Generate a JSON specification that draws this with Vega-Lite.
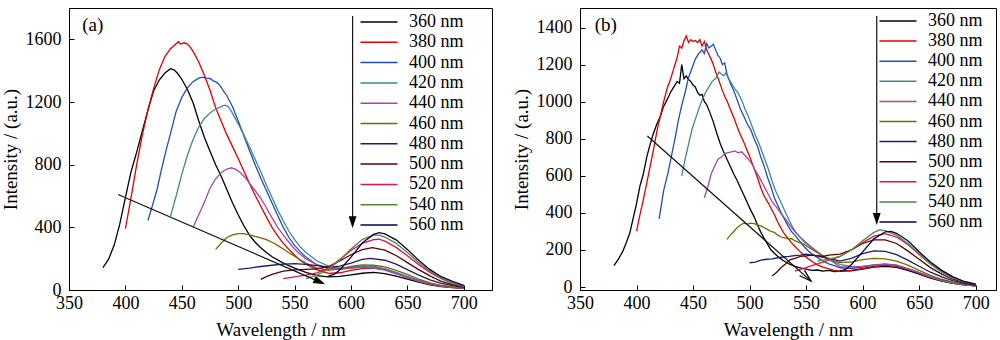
{
"$schema":"https://vega.github.io/schema/vega-lite/v6.json",
"padding":{"left":0,"top":7,"right":0,"bottom":0},
"background":"white",
"config":{
 "font":"Liberation Serif, DejaVu Serif, serif",
 "view":{"stroke":"black","strokeWidth":1},
 "axis":{"labelFont":"Liberation Serif, DejaVu Serif, serif","titleFont":"Liberation Serif, DejaVu Serif, serif","labelFontSize":18,"titleFontSize":19,"titleFontWeight":"normal","labelColor":"black","titleColor":"black","domainColor":"black","tickColor":"black","tickSize":-5,"grid":false,"labelFlush":false,"labelOverlap":false,"format":"d"},
 "axisX":{"labelPadding":9,"titlePadding":8},
 "axisY":{"labelPadding":13,"titlePadding":5},
 "legend":{"labelFont":"Liberation Serif, DejaVu Serif, serif","labelFontSize":18,"labelColor":"black"}
},
"spacing":18,
"resolve":{"legend":{"color":"independent"}},
"datasets":{
"a":[
{"s":"360 nm","x":380,"y":142},{"s":"360 nm","x":385,"y":195},{"s":"360 nm","x":390,"y":285},{"s":"360 nm","x":395,"y":420},{"s":"360 nm","x":400,"y":590},{"s":"360 nm","x":405,"y":755},{"s":"360 nm","x":410,"y":880},{"s":"360 nm","x":415,"y":1015},{"s":"360 nm","x":420,"y":1150},{"s":"360 nm","x":425,"y":1270},{"s":"360 nm","x":430,"y":1340},{"s":"360 nm","x":435,"y":1385},{"s":"360 nm","x":440,"y":1413},{"s":"360 nm","x":443,"y":1405},{"s":"360 nm","x":446,"y":1385},{"s":"360 nm","x":450,"y":1345},{"s":"360 nm","x":455,"y":1280},{"s":"360 nm","x":460,"y":1195},{"s":"360 nm","x":465,"y":1080},{"s":"360 nm","x":470,"y":975},{"s":"360 nm","x":475,"y":885},{"s":"360 nm","x":480,"y":800},{"s":"360 nm","x":485,"y":725},{"s":"360 nm","x":490,"y":640},{"s":"360 nm","x":495,"y":555},{"s":"360 nm","x":500,"y":480},{"s":"360 nm","x":505,"y":410},{"s":"360 nm","x":510,"y":350},{"s":"360 nm","x":515,"y":305},{"s":"360 nm","x":520,"y":270},{"s":"360 nm","x":525,"y":240},{"s":"360 nm","x":530,"y":212},{"s":"360 nm","x":540,"y":172},{"s":"360 nm","x":550,"y":140},{"s":"360 nm","x":560,"y":112},{"s":"360 nm","x":570,"y":92},{"s":"360 nm","x":580,"y":84},{"s":"360 nm","x":590,"y":87},{"s":"360 nm","x":600,"y":97},{"s":"360 nm","x":610,"y":107},{"s":"360 nm","x":620,"y":112},{"s":"360 nm","x":630,"y":105},{"s":"360 nm","x":640,"y":88},{"s":"360 nm","x":650,"y":70},{"s":"360 nm","x":660,"y":50},{"s":"360 nm","x":670,"y":33},{"s":"360 nm","x":680,"y":22},{"s":"360 nm","x":690,"y":15},{"s":"360 nm","x":700,"y":10},
{"s":"380 nm","x":400,"y":391},{"s":"380 nm","x":405,"y":590},{"s":"380 nm","x":410,"y":800},{"s":"380 nm","x":415,"y":990},{"s":"380 nm","x":420,"y":1150},{"s":"380 nm","x":425,"y":1285},{"s":"380 nm","x":430,"y":1405},{"s":"380 nm","x":435,"y":1490},{"s":"380 nm","x":440,"y":1540},{"s":"380 nm","x":445,"y":1572},{"s":"380 nm","x":447,"y":1585},{"s":"380 nm","x":449,"y":1570},{"s":"380 nm","x":452,"y":1578},{"s":"380 nm","x":455,"y":1570},{"s":"380 nm","x":458,"y":1545},{"s":"380 nm","x":461,"y":1510},{"s":"380 nm","x":465,"y":1455},{"s":"380 nm","x":470,"y":1370},{"s":"380 nm","x":475,"y":1275},{"s":"380 nm","x":480,"y":1165},{"s":"380 nm","x":485,"y":1075},{"s":"380 nm","x":490,"y":990},{"s":"380 nm","x":495,"y":915},{"s":"380 nm","x":500,"y":840},{"s":"380 nm","x":505,"y":760},{"s":"380 nm","x":510,"y":680},{"s":"380 nm","x":515,"y":605},{"s":"380 nm","x":520,"y":535},{"s":"380 nm","x":525,"y":465},{"s":"380 nm","x":530,"y":400},{"s":"380 nm","x":535,"y":345},{"s":"380 nm","x":540,"y":298},{"s":"380 nm","x":545,"y":258},{"s":"380 nm","x":550,"y":222},{"s":"380 nm","x":555,"y":190},{"s":"380 nm","x":560,"y":165},{"s":"380 nm","x":570,"y":128},{"s":"380 nm","x":580,"y":106},{"s":"380 nm","x":590,"y":110},{"s":"380 nm","x":600,"y":125},{"s":"380 nm","x":610,"y":137},{"s":"380 nm","x":620,"y":140},{"s":"380 nm","x":630,"y":128},{"s":"380 nm","x":640,"y":105},{"s":"380 nm","x":650,"y":80},{"s":"380 nm","x":660,"y":57},{"s":"380 nm","x":670,"y":38},{"s":"380 nm","x":680,"y":25},{"s":"380 nm","x":690,"y":17},{"s":"380 nm","x":700,"y":12},
{"s":"400 nm","x":420,"y":444},{"s":"400 nm","x":424,"y":540},{"s":"400 nm","x":428,"y":640},{"s":"400 nm","x":432,"y":770},{"s":"400 nm","x":436,"y":890},{"s":"400 nm","x":440,"y":1000},{"s":"400 nm","x":445,"y":1140},{"s":"400 nm","x":450,"y":1230},{"s":"400 nm","x":455,"y":1290},{"s":"400 nm","x":460,"y":1330},{"s":"400 nm","x":465,"y":1352},{"s":"400 nm","x":468,"y":1358},{"s":"400 nm","x":472,"y":1352},{"s":"400 nm","x":475,"y":1350},{"s":"400 nm","x":478,"y":1335},{"s":"400 nm","x":481,"y":1325},{"s":"400 nm","x":484,"y":1305},{"s":"400 nm","x":487,"y":1270},{"s":"400 nm","x":490,"y":1240},{"s":"400 nm","x":495,"y":1170},{"s":"400 nm","x":500,"y":1080},{"s":"400 nm","x":505,"y":985},{"s":"400 nm","x":510,"y":890},{"s":"400 nm","x":515,"y":800},{"s":"400 nm","x":520,"y":715},{"s":"400 nm","x":525,"y":635},{"s":"400 nm","x":530,"y":555},{"s":"400 nm","x":535,"y":475},{"s":"400 nm","x":540,"y":400},{"s":"400 nm","x":545,"y":335},{"s":"400 nm","x":550,"y":285},{"s":"400 nm","x":555,"y":245},{"s":"400 nm","x":560,"y":210},{"s":"400 nm","x":570,"y":160},{"s":"400 nm","x":580,"y":138},{"s":"400 nm","x":590,"y":132},{"s":"400 nm","x":600,"y":140},{"s":"400 nm","x":610,"y":150},{"s":"400 nm","x":620,"y":148},{"s":"400 nm","x":630,"y":135},{"s":"400 nm","x":640,"y":110},{"s":"400 nm","x":650,"y":85},{"s":"400 nm","x":660,"y":60},{"s":"400 nm","x":670,"y":40},{"s":"400 nm","x":680,"y":27},{"s":"400 nm","x":690,"y":18},{"s":"400 nm","x":700,"y":13},
{"s":"420 nm","x":440,"y":472},{"s":"420 nm","x":445,"y":600},{"s":"420 nm","x":450,"y":740},{"s":"420 nm","x":455,"y":860},{"s":"420 nm","x":460,"y":960},{"s":"420 nm","x":465,"y":1040},{"s":"420 nm","x":470,"y":1095},{"s":"420 nm","x":475,"y":1130},{"s":"420 nm","x":480,"y":1155},{"s":"420 nm","x":485,"y":1170},{"s":"420 nm","x":488,"y":1180},{"s":"420 nm","x":491,"y":1172},{"s":"420 nm","x":494,"y":1140},{"s":"420 nm","x":497,"y":1100},{"s":"420 nm","x":500,"y":1060},{"s":"420 nm","x":505,"y":990},{"s":"420 nm","x":510,"y":915},{"s":"420 nm","x":515,"y":835},{"s":"420 nm","x":520,"y":755},{"s":"420 nm","x":525,"y":670},{"s":"420 nm","x":530,"y":590},{"s":"420 nm","x":535,"y":510},{"s":"420 nm","x":540,"y":440},{"s":"420 nm","x":545,"y":375},{"s":"420 nm","x":550,"y":322},{"s":"420 nm","x":555,"y":275},{"s":"420 nm","x":560,"y":240},{"s":"420 nm","x":570,"y":185},{"s":"420 nm","x":580,"y":152},{"s":"420 nm","x":590,"y":140},{"s":"420 nm","x":600,"y":145},{"s":"420 nm","x":610,"y":152},{"s":"420 nm","x":620,"y":150},{"s":"420 nm","x":630,"y":135},{"s":"420 nm","x":640,"y":112},{"s":"420 nm","x":650,"y":85},{"s":"420 nm","x":660,"y":60},{"s":"420 nm","x":670,"y":40},{"s":"420 nm","x":680,"y":27},{"s":"420 nm","x":690,"y":18},{"s":"420 nm","x":700,"y":13},
{"s":"440 nm","x":460,"y":400},{"s":"440 nm","x":465,"y":480},{"s":"440 nm","x":470,"y":560},{"s":"440 nm","x":475,"y":650},{"s":"440 nm","x":480,"y":710},{"s":"440 nm","x":485,"y":750},{"s":"440 nm","x":490,"y":772},{"s":"440 nm","x":494,"y":780},{"s":"440 nm","x":498,"y":770},{"s":"440 nm","x":502,"y":748},{"s":"440 nm","x":506,"y":720},{"s":"440 nm","x":510,"y":680},{"s":"440 nm","x":515,"y":635},{"s":"440 nm","x":520,"y":585},{"s":"440 nm","x":525,"y":525},{"s":"440 nm","x":530,"y":460},{"s":"440 nm","x":535,"y":400},{"s":"440 nm","x":540,"y":350},{"s":"440 nm","x":545,"y":305},{"s":"440 nm","x":550,"y":262},{"s":"440 nm","x":555,"y":228},{"s":"440 nm","x":560,"y":198},{"s":"440 nm","x":570,"y":160},{"s":"440 nm","x":580,"y":142},{"s":"440 nm","x":590,"y":138},{"s":"440 nm","x":600,"y":140},{"s":"440 nm","x":610,"y":145},{"s":"440 nm","x":620,"y":140},{"s":"440 nm","x":630,"y":128},{"s":"440 nm","x":640,"y":105},{"s":"440 nm","x":650,"y":80},{"s":"440 nm","x":660,"y":55},{"s":"440 nm","x":670,"y":38},{"s":"440 nm","x":680,"y":25},{"s":"440 nm","x":690,"y":17},{"s":"440 nm","x":700,"y":12},
{"s":"460 nm","x":480,"y":259},{"s":"460 nm","x":485,"y":300},{"s":"460 nm","x":490,"y":335},{"s":"460 nm","x":495,"y":352},{"s":"460 nm","x":500,"y":360},{"s":"460 nm","x":505,"y":360},{"s":"460 nm","x":510,"y":352},{"s":"460 nm","x":515,"y":342},{"s":"460 nm","x":520,"y":333},{"s":"460 nm","x":525,"y":322},{"s":"460 nm","x":530,"y":305},{"s":"460 nm","x":535,"y":285},{"s":"460 nm","x":540,"y":262},{"s":"460 nm","x":545,"y":238},{"s":"460 nm","x":550,"y":215},{"s":"460 nm","x":555,"y":192},{"s":"460 nm","x":560,"y":172},{"s":"460 nm","x":570,"y":140},{"s":"460 nm","x":580,"y":126},{"s":"460 nm","x":590,"y":135},{"s":"460 nm","x":600,"y":150},{"s":"460 nm","x":610,"y":160},{"s":"460 nm","x":620,"y":158},{"s":"460 nm","x":630,"y":148},{"s":"460 nm","x":640,"y":125},{"s":"460 nm","x":650,"y":100},{"s":"460 nm","x":660,"y":70},{"s":"460 nm","x":670,"y":45},{"s":"460 nm","x":680,"y":30},{"s":"460 nm","x":690,"y":20},{"s":"460 nm","x":700,"y":14},
{"s":"480 nm","x":500,"y":132},{"s":"480 nm","x":510,"y":140},{"s":"480 nm","x":520,"y":150},{"s":"480 nm","x":530,"y":158},{"s":"480 nm","x":540,"y":165},{"s":"480 nm","x":550,"y":168},{"s":"480 nm","x":560,"y":164},{"s":"480 nm","x":570,"y":155},{"s":"480 nm","x":580,"y":145},{"s":"480 nm","x":590,"y":152},{"s":"480 nm","x":600,"y":172},{"s":"480 nm","x":610,"y":195},{"s":"480 nm","x":617,"y":202},{"s":"480 nm","x":630,"y":190},{"s":"480 nm","x":640,"y":165},{"s":"480 nm","x":650,"y":130},{"s":"480 nm","x":660,"y":95},{"s":"480 nm","x":670,"y":65},{"s":"480 nm","x":680,"y":42},{"s":"480 nm","x":690,"y":28},{"s":"480 nm","x":700,"y":18},
{"s":"500 nm","x":520,"y":68},{"s":"500 nm","x":525,"y":85},{"s":"500 nm","x":530,"y":100},{"s":"500 nm","x":540,"y":120},{"s":"500 nm","x":550,"y":128},{"s":"500 nm","x":560,"y":132},{"s":"500 nm","x":570,"y":135},{"s":"500 nm","x":580,"y":150},{"s":"500 nm","x":590,"y":185},{"s":"500 nm","x":600,"y":225},{"s":"500 nm","x":610,"y":258},{"s":"500 nm","x":619,"y":270},{"s":"500 nm","x":630,"y":255},{"s":"500 nm","x":640,"y":220},{"s":"500 nm","x":650,"y":175},{"s":"500 nm","x":660,"y":130},{"s":"500 nm","x":670,"y":90},{"s":"500 nm","x":680,"y":55},{"s":"500 nm","x":690,"y":35},{"s":"500 nm","x":700,"y":20},
{"s":"520 nm","x":540,"y":72},{"s":"520 nm","x":550,"y":84},{"s":"520 nm","x":560,"y":95},{"s":"520 nm","x":570,"y":110},{"s":"520 nm","x":580,"y":140},{"s":"520 nm","x":590,"y":195},{"s":"520 nm","x":600,"y":252},{"s":"520 nm","x":610,"y":298},{"s":"520 nm","x":620,"y":322},{"s":"520 nm","x":625,"y":324},{"s":"520 nm","x":630,"y":312},{"s":"520 nm","x":640,"y":272},{"s":"520 nm","x":650,"y":218},{"s":"520 nm","x":660,"y":162},{"s":"520 nm","x":670,"y":112},{"s":"520 nm","x":680,"y":72},{"s":"520 nm","x":690,"y":42},{"s":"520 nm","x":700,"y":22},
{"s":"540 nm","x":560,"y":72},{"s":"540 nm","x":570,"y":95},{"s":"540 nm","x":580,"y":132},{"s":"540 nm","x":590,"y":190},{"s":"540 nm","x":600,"y":262},{"s":"540 nm","x":610,"y":322},{"s":"540 nm","x":620,"y":352},{"s":"540 nm","x":625,"y":350},{"s":"540 nm","x":630,"y":338},{"s":"540 nm","x":640,"y":298},{"s":"540 nm","x":650,"y":240},{"s":"540 nm","x":660,"y":176},{"s":"540 nm","x":670,"y":120},{"s":"540 nm","x":680,"y":76},{"s":"540 nm","x":690,"y":46},{"s":"540 nm","x":700,"y":25},
{"s":"560 nm","x":580,"y":90},{"s":"560 nm","x":585,"y":100},{"s":"560 nm","x":590,"y":128},{"s":"560 nm","x":600,"y":210},{"s":"560 nm","x":610,"y":300},{"s":"560 nm","x":620,"y":355},{"s":"560 nm","x":625,"y":366},{"s":"560 nm","x":630,"y":358},{"s":"560 nm","x":640,"y":320},{"s":"560 nm","x":650,"y":258},{"s":"560 nm","x":660,"y":190},{"s":"560 nm","x":670,"y":130},{"s":"560 nm","x":680,"y":85},{"s":"560 nm","x":690,"y":55},{"s":"560 nm","x":700,"y":30}
],
"b":[
{"s":"360 nm","x":380,"y":115},{"s":"360 nm","x":384,"y":150},{"s":"360 nm","x":388,"y":195},{"s":"360 nm","x":391,"y":240},{"s":"360 nm","x":394,"y":290},{"s":"360 nm","x":397,"y":370},{"s":"360 nm","x":400,"y":450},{"s":"360 nm","x":403,"y":545},{"s":"360 nm","x":406,"y":610},{"s":"360 nm","x":409,"y":700},{"s":"360 nm","x":412,"y":770},{"s":"360 nm","x":415,"y":830},{"s":"360 nm","x":418,"y":880},{"s":"360 nm","x":421,"y":920},{"s":"360 nm","x":424,"y":975},{"s":"360 nm","x":427,"y":1010},{"s":"360 nm","x":430,"y":1050},{"s":"360 nm","x":433,"y":1080},{"s":"360 nm","x":436,"y":1110},{"s":"360 nm","x":438,"y":1100},{"s":"360 nm","x":440,"y":1200},{"s":"360 nm","x":442,"y":1125},{"s":"360 nm","x":444,"y":1140},{"s":"360 nm","x":446,"y":1120},{"s":"360 nm","x":448,"y":1110},{"s":"360 nm","x":450,"y":1090},{"s":"360 nm","x":452,"y":1080},{"s":"360 nm","x":454,"y":1050},{"s":"360 nm","x":456,"y":1035},{"s":"360 nm","x":458,"y":1040},{"s":"360 nm","x":460,"y":1000},{"s":"360 nm","x":462,"y":985},{"s":"360 nm","x":465,"y":940},{"s":"360 nm","x":468,"y":890},{"s":"360 nm","x":471,"y":830},{"s":"360 nm","x":474,"y":775},{"s":"360 nm","x":477,"y":730},{"s":"360 nm","x":480,"y":690},{"s":"360 nm","x":483,"y":650},{"s":"360 nm","x":486,"y":610},{"s":"360 nm","x":489,"y":575},{"s":"360 nm","x":492,"y":535},{"s":"360 nm","x":495,"y":495},{"s":"360 nm","x":498,"y":455},{"s":"360 nm","x":501,"y":415},{"s":"360 nm","x":504,"y":380},{"s":"360 nm","x":507,"y":335},{"s":"360 nm","x":510,"y":295},{"s":"360 nm","x":513,"y":262},{"s":"360 nm","x":516,"y":230},{"s":"360 nm","x":519,"y":200},{"s":"360 nm","x":522,"y":182},{"s":"360 nm","x":526,"y":160},{"s":"360 nm","x":530,"y":142},{"s":"360 nm","x":535,"y":125},{"s":"360 nm","x":540,"y":112},{"s":"360 nm","x":545,"y":104},{"s":"360 nm","x":550,"y":97},{"s":"360 nm","x":555,"y":90},{"s":"360 nm","x":560,"y":92},{"s":"360 nm","x":565,"y":86},{"s":"360 nm","x":570,"y":90},{"s":"360 nm","x":575,"y":84},{"s":"360 nm","x":580,"y":86},{"s":"360 nm","x":590,"y":88},{"s":"360 nm","x":600,"y":97},{"s":"360 nm","x":610,"y":108},{"s":"360 nm","x":620,"y":112},{"s":"360 nm","x":630,"y":106},{"s":"360 nm","x":640,"y":90},{"s":"360 nm","x":650,"y":70},{"s":"360 nm","x":660,"y":48},{"s":"360 nm","x":670,"y":32},{"s":"360 nm","x":680,"y":20},{"s":"360 nm","x":690,"y":12},{"s":"360 nm","x":700,"y":6},
{"s":"380 nm","x":400,"y":300},{"s":"380 nm","x":403,"y":390},{"s":"380 nm","x":406,"y":470},{"s":"380 nm","x":409,"y":560},{"s":"380 nm","x":412,"y":650},{"s":"380 nm","x":415,"y":740},{"s":"380 nm","x":418,"y":840},{"s":"380 nm","x":421,"y":920},{"s":"380 nm","x":424,"y":1000},{"s":"380 nm","x":427,"y":1070},{"s":"380 nm","x":430,"y":1120},{"s":"380 nm","x":433,"y":1180},{"s":"380 nm","x":436,"y":1240},{"s":"380 nm","x":438,"y":1300},{"s":"380 nm","x":440,"y":1290},{"s":"380 nm","x":442,"y":1330},{"s":"380 nm","x":444,"y":1355},{"s":"380 nm","x":446,"y":1320},{"s":"380 nm","x":448,"y":1335},{"s":"380 nm","x":450,"y":1325},{"s":"380 nm","x":452,"y":1330},{"s":"380 nm","x":454,"y":1320},{"s":"380 nm","x":456,"y":1335},{"s":"380 nm","x":458,"y":1300},{"s":"380 nm","x":460,"y":1325},{"s":"380 nm","x":462,"y":1280},{"s":"380 nm","x":464,"y":1255},{"s":"380 nm","x":466,"y":1230},{"s":"380 nm","x":468,"y":1200},{"s":"380 nm","x":470,"y":1160},{"s":"380 nm","x":472,"y":1130},{"s":"380 nm","x":474,"y":1095},{"s":"380 nm","x":476,"y":1060},{"s":"380 nm","x":478,"y":1030},{"s":"380 nm","x":480,"y":1005},{"s":"380 nm","x":483,"y":960},{"s":"380 nm","x":486,"y":915},{"s":"380 nm","x":489,"y":865},{"s":"380 nm","x":492,"y":820},{"s":"380 nm","x":495,"y":780},{"s":"380 nm","x":498,"y":735},{"s":"380 nm","x":501,"y":690},{"s":"380 nm","x":504,"y":640},{"s":"380 nm","x":507,"y":590},{"s":"380 nm","x":510,"y":535},{"s":"380 nm","x":513,"y":490},{"s":"380 nm","x":516,"y":460},{"s":"380 nm","x":519,"y":425},{"s":"380 nm","x":522,"y":390},{"s":"380 nm","x":525,"y":350},{"s":"380 nm","x":528,"y":315},{"s":"380 nm","x":531,"y":285},{"s":"380 nm","x":534,"y":262},{"s":"380 nm","x":537,"y":240},{"s":"380 nm","x":540,"y":220},{"s":"380 nm","x":544,"y":195},{"s":"380 nm","x":548,"y":172},{"s":"380 nm","x":552,"y":152},{"s":"380 nm","x":556,"y":135},{"s":"380 nm","x":560,"y":120},{"s":"380 nm","x":565,"y":108},{"s":"380 nm","x":570,"y":98},{"s":"380 nm","x":575,"y":90},{"s":"380 nm","x":580,"y":86},{"s":"380 nm","x":590,"y":90},{"s":"380 nm","x":600,"y":100},{"s":"380 nm","x":610,"y":112},{"s":"380 nm","x":620,"y":118},{"s":"380 nm","x":630,"y":112},{"s":"380 nm","x":640,"y":95},{"s":"380 nm","x":650,"y":74},{"s":"380 nm","x":660,"y":52},{"s":"380 nm","x":670,"y":34},{"s":"380 nm","x":680,"y":21},{"s":"380 nm","x":690,"y":12},{"s":"380 nm","x":700,"y":6},
{"s":"400 nm","x":420,"y":368},{"s":"400 nm","x":424,"y":520},{"s":"400 nm","x":428,"y":620},{"s":"400 nm","x":431,"y":710},{"s":"400 nm","x":434,"y":800},{"s":"400 nm","x":437,"y":900},{"s":"400 nm","x":440,"y":980},{"s":"400 nm","x":443,"y":1050},{"s":"400 nm","x":446,"y":1130},{"s":"400 nm","x":449,"y":1180},{"s":"400 nm","x":452,"y":1230},{"s":"400 nm","x":455,"y":1260},{"s":"400 nm","x":458,"y":1280},{"s":"400 nm","x":460,"y":1260},{"s":"400 nm","x":462,"y":1315},{"s":"400 nm","x":464,"y":1290},{"s":"400 nm","x":466,"y":1300},{"s":"400 nm","x":468,"y":1310},{"s":"400 nm","x":470,"y":1280},{"s":"400 nm","x":472,"y":1250},{"s":"400 nm","x":474,"y":1235},{"s":"400 nm","x":476,"y":1200},{"s":"400 nm","x":478,"y":1210},{"s":"400 nm","x":480,"y":1150},{"s":"400 nm","x":483,"y":1100},{"s":"400 nm","x":486,"y":1060},{"s":"400 nm","x":489,"y":1010},{"s":"400 nm","x":492,"y":960},{"s":"400 nm","x":495,"y":920},{"s":"400 nm","x":498,"y":880},{"s":"400 nm","x":501,"y":850},{"s":"400 nm","x":504,"y":800},{"s":"400 nm","x":507,"y":760},{"s":"400 nm","x":510,"y":700},{"s":"400 nm","x":513,"y":650},{"s":"400 nm","x":516,"y":590},{"s":"400 nm","x":519,"y":540},{"s":"400 nm","x":522,"y":480},{"s":"400 nm","x":525,"y":440},{"s":"400 nm","x":528,"y":400},{"s":"400 nm","x":531,"y":365},{"s":"400 nm","x":534,"y":330},{"s":"400 nm","x":537,"y":300},{"s":"400 nm","x":540,"y":280},{"s":"400 nm","x":544,"y":250},{"s":"400 nm","x":548,"y":220},{"s":"400 nm","x":552,"y":195},{"s":"400 nm","x":556,"y":175},{"s":"400 nm","x":560,"y":160},{"s":"400 nm","x":565,"y":140},{"s":"400 nm","x":570,"y":125},{"s":"400 nm","x":575,"y":115},{"s":"400 nm","x":580,"y":104},{"s":"400 nm","x":590,"y":100},{"s":"400 nm","x":600,"y":108},{"s":"400 nm","x":610,"y":118},{"s":"400 nm","x":620,"y":122},{"s":"400 nm","x":630,"y":115},{"s":"400 nm","x":640,"y":98},{"s":"400 nm","x":650,"y":76},{"s":"400 nm","x":660,"y":53},{"s":"400 nm","x":670,"y":35},{"s":"400 nm","x":680,"y":22},{"s":"400 nm","x":690,"y":13},{"s":"400 nm","x":700,"y":7},
{"s":"420 nm","x":440,"y":600},{"s":"420 nm","x":443,"y":690},{"s":"420 nm","x":446,"y":770},{"s":"420 nm","x":449,"y":850},{"s":"420 nm","x":452,"y":905},{"s":"420 nm","x":455,"y":960},{"s":"420 nm","x":458,"y":1010},{"s":"420 nm","x":461,"y":1050},{"s":"420 nm","x":464,"y":1080},{"s":"420 nm","x":467,"y":1110},{"s":"420 nm","x":470,"y":1125},{"s":"420 nm","x":473,"y":1160},{"s":"420 nm","x":475,"y":1150},{"s":"420 nm","x":477,"y":1140},{"s":"420 nm","x":479,"y":1155},{"s":"420 nm","x":481,"y":1130},{"s":"420 nm","x":484,"y":1100},{"s":"420 nm","x":487,"y":1070},{"s":"420 nm","x":490,"y":1045},{"s":"420 nm","x":493,"y":1010},{"s":"420 nm","x":496,"y":960},{"s":"420 nm","x":499,"y":920},{"s":"420 nm","x":502,"y":870},{"s":"420 nm","x":505,"y":820},{"s":"420 nm","x":508,"y":780},{"s":"420 nm","x":511,"y":730},{"s":"420 nm","x":514,"y":680},{"s":"420 nm","x":517,"y":630},{"s":"420 nm","x":520,"y":570},{"s":"420 nm","x":523,"y":520},{"s":"420 nm","x":526,"y":480},{"s":"420 nm","x":529,"y":440},{"s":"420 nm","x":532,"y":400},{"s":"420 nm","x":535,"y":360},{"s":"420 nm","x":538,"y":325},{"s":"420 nm","x":541,"y":295},{"s":"420 nm","x":545,"y":265},{"s":"420 nm","x":549,"y":240},{"s":"420 nm","x":553,"y":220},{"s":"420 nm","x":557,"y":200},{"s":"420 nm","x":561,"y":182},{"s":"420 nm","x":565,"y":165},{"s":"420 nm","x":570,"y":150},{"s":"420 nm","x":575,"y":135},{"s":"420 nm","x":580,"y":122},{"s":"420 nm","x":590,"y":110},{"s":"420 nm","x":600,"y":112},{"s":"420 nm","x":610,"y":120},{"s":"420 nm","x":620,"y":125},{"s":"420 nm","x":630,"y":118},{"s":"420 nm","x":640,"y":100},{"s":"420 nm","x":650,"y":78},{"s":"420 nm","x":660,"y":55},{"s":"420 nm","x":670,"y":36},{"s":"420 nm","x":680,"y":22},{"s":"420 nm","x":690,"y":13},{"s":"420 nm","x":700,"y":7},
{"s":"440 nm","x":460,"y":482},{"s":"440 nm","x":463,"y":540},{"s":"440 nm","x":466,"y":610},{"s":"440 nm","x":469,"y":650},{"s":"440 nm","x":472,"y":690},{"s":"440 nm","x":475,"y":700},{"s":"440 nm","x":478,"y":720},{"s":"440 nm","x":481,"y":725},{"s":"440 nm","x":484,"y":730},{"s":"440 nm","x":487,"y":735},{"s":"440 nm","x":490,"y":725},{"s":"440 nm","x":493,"y":730},{"s":"440 nm","x":496,"y":710},{"s":"440 nm","x":499,"y":690},{"s":"440 nm","x":502,"y":665},{"s":"440 nm","x":505,"y":630},{"s":"440 nm","x":508,"y":600},{"s":"440 nm","x":511,"y":565},{"s":"440 nm","x":514,"y":530},{"s":"440 nm","x":517,"y":495},{"s":"440 nm","x":520,"y":460},{"s":"440 nm","x":524,"y":430},{"s":"440 nm","x":528,"y":395},{"s":"440 nm","x":532,"y":365},{"s":"440 nm","x":536,"y":330},{"s":"440 nm","x":540,"y":300},{"s":"440 nm","x":545,"y":268},{"s":"440 nm","x":550,"y":240},{"s":"440 nm","x":555,"y":215},{"s":"440 nm","x":560,"y":190},{"s":"440 nm","x":565,"y":168},{"s":"440 nm","x":570,"y":150},{"s":"440 nm","x":575,"y":130},{"s":"440 nm","x":580,"y":110},{"s":"440 nm","x":590,"y":108},{"s":"440 nm","x":600,"y":112},{"s":"440 nm","x":610,"y":118},{"s":"440 nm","x":620,"y":122},{"s":"440 nm","x":630,"y":118},{"s":"440 nm","x":640,"y":100},{"s":"440 nm","x":650,"y":78},{"s":"440 nm","x":660,"y":55},{"s":"440 nm","x":670,"y":37},{"s":"440 nm","x":680,"y":23},{"s":"440 nm","x":690,"y":14},{"s":"440 nm","x":700,"y":7},
{"s":"460 nm","x":480,"y":257},{"s":"460 nm","x":483,"y":280},{"s":"460 nm","x":486,"y":300},{"s":"460 nm","x":489,"y":320},{"s":"460 nm","x":492,"y":335},{"s":"460 nm","x":495,"y":345},{"s":"460 nm","x":498,"y":340},{"s":"460 nm","x":501,"y":345},{"s":"460 nm","x":504,"y":342},{"s":"460 nm","x":507,"y":335},{"s":"460 nm","x":510,"y":330},{"s":"460 nm","x":513,"y":320},{"s":"460 nm","x":516,"y":310},{"s":"460 nm","x":519,"y":300},{"s":"460 nm","x":522,"y":295},{"s":"460 nm","x":525,"y":280},{"s":"460 nm","x":528,"y":270},{"s":"460 nm","x":531,"y":265},{"s":"460 nm","x":534,"y":260},{"s":"460 nm","x":537,"y":262},{"s":"460 nm","x":540,"y":250},{"s":"460 nm","x":544,"y":240},{"s":"460 nm","x":548,"y":232},{"s":"460 nm","x":552,"y":215},{"s":"460 nm","x":556,"y":200},{"s":"460 nm","x":560,"y":185},{"s":"460 nm","x":565,"y":168},{"s":"460 nm","x":570,"y":150},{"s":"460 nm","x":575,"y":140},{"s":"460 nm","x":580,"y":132},{"s":"460 nm","x":590,"y":135},{"s":"460 nm","x":600,"y":148},{"s":"460 nm","x":610,"y":155},{"s":"460 nm","x":620,"y":152},{"s":"460 nm","x":630,"y":140},{"s":"460 nm","x":640,"y":118},{"s":"460 nm","x":650,"y":90},{"s":"460 nm","x":660,"y":63},{"s":"460 nm","x":670,"y":42},{"s":"460 nm","x":680,"y":27},{"s":"460 nm","x":690,"y":16},{"s":"460 nm","x":700,"y":8},
{"s":"480 nm","x":500,"y":131},{"s":"480 nm","x":505,"y":135},{"s":"480 nm","x":510,"y":145},{"s":"480 nm","x":515,"y":150},{"s":"480 nm","x":520,"y":152},{"s":"480 nm","x":525,"y":158},{"s":"480 nm","x":530,"y":162},{"s":"480 nm","x":535,"y":165},{"s":"480 nm","x":540,"y":170},{"s":"480 nm","x":545,"y":172},{"s":"480 nm","x":550,"y":178},{"s":"480 nm","x":555,"y":172},{"s":"480 nm","x":560,"y":168},{"s":"480 nm","x":565,"y":160},{"s":"480 nm","x":570,"y":155},{"s":"480 nm","x":575,"y":148},{"s":"480 nm","x":580,"y":140},{"s":"480 nm","x":590,"y":155},{"s":"480 nm","x":600,"y":180},{"s":"480 nm","x":610,"y":195},{"s":"480 nm","x":620,"y":192},{"s":"480 nm","x":630,"y":175},{"s":"480 nm","x":640,"y":145},{"s":"480 nm","x":650,"y":112},{"s":"480 nm","x":660,"y":80},{"s":"480 nm","x":670,"y":55},{"s":"480 nm","x":680,"y":35},{"s":"480 nm","x":690,"y":20},{"s":"480 nm","x":700,"y":10},
{"s":"500 nm","x":520,"y":59},{"s":"500 nm","x":524,"y":80},{"s":"500 nm","x":528,"y":105},{"s":"500 nm","x":532,"y":125},{"s":"500 nm","x":536,"y":148},{"s":"500 nm","x":540,"y":155},{"s":"500 nm","x":545,"y":165},{"s":"500 nm","x":550,"y":168},{"s":"500 nm","x":555,"y":172},{"s":"500 nm","x":560,"y":170},{"s":"500 nm","x":565,"y":165},{"s":"500 nm","x":570,"y":172},{"s":"500 nm","x":575,"y":175},{"s":"500 nm","x":580,"y":178},{"s":"500 nm","x":590,"y":200},{"s":"500 nm","x":600,"y":235},{"s":"500 nm","x":610,"y":255},{"s":"500 nm","x":620,"y":255},{"s":"500 nm","x":630,"y":235},{"s":"500 nm","x":640,"y":195},{"s":"500 nm","x":650,"y":150},{"s":"500 nm","x":660,"y":105},{"s":"500 nm","x":670,"y":70},{"s":"500 nm","x":680,"y":42},{"s":"500 nm","x":690,"y":25},{"s":"500 nm","x":700,"y":12},
{"s":"520 nm","x":540,"y":86},{"s":"520 nm","x":545,"y":95},{"s":"520 nm","x":550,"y":105},{"s":"520 nm","x":555,"y":115},{"s":"520 nm","x":560,"y":125},{"s":"520 nm","x":565,"y":135},{"s":"520 nm","x":570,"y":145},{"s":"520 nm","x":575,"y":155},{"s":"520 nm","x":580,"y":165},{"s":"520 nm","x":590,"y":200},{"s":"520 nm","x":600,"y":240},{"s":"520 nm","x":610,"y":275},{"s":"520 nm","x":620,"y":288},{"s":"520 nm","x":630,"y":270},{"s":"520 nm","x":640,"y":230},{"s":"520 nm","x":650,"y":175},{"s":"520 nm","x":660,"y":125},{"s":"520 nm","x":670,"y":82},{"s":"520 nm","x":680,"y":50},{"s":"520 nm","x":690,"y":28},{"s":"520 nm","x":700,"y":14},
{"s":"540 nm","x":560,"y":140},{"s":"540 nm","x":565,"y":145},{"s":"540 nm","x":570,"y":150},{"s":"540 nm","x":575,"y":158},{"s":"540 nm","x":580,"y":165},{"s":"540 nm","x":590,"y":200},{"s":"540 nm","x":600,"y":250},{"s":"540 nm","x":610,"y":295},{"s":"540 nm","x":615,"y":308},{"s":"540 nm","x":620,"y":305},{"s":"540 nm","x":630,"y":280},{"s":"540 nm","x":640,"y":235},{"s":"540 nm","x":650,"y":180},{"s":"540 nm","x":660,"y":125},{"s":"540 nm","x":670,"y":82},{"s":"540 nm","x":680,"y":50},{"s":"540 nm","x":690,"y":28},{"s":"540 nm","x":700,"y":14},
{"s":"560 nm","x":580,"y":86},{"s":"560 nm","x":585,"y":95},{"s":"560 nm","x":590,"y":120},{"s":"560 nm","x":600,"y":190},{"s":"560 nm","x":610,"y":260},{"s":"560 nm","x":620,"y":298},{"s":"560 nm","x":625,"y":300},{"s":"560 nm","x":630,"y":290},{"s":"560 nm","x":640,"y":250},{"s":"560 nm","x":650,"y":190},{"s":"560 nm","x":660,"y":135},{"s":"560 nm","x":670,"y":90},{"s":"560 nm","x":680,"y":55},{"s":"560 nm","x":690,"y":30},{"s":"560 nm","x":700,"y":15}
]
},
"hconcat":[
{
 "width":423,"height":282,
 "layer":[
  {"data":{"name":"a"},"mark":{"type":"line","strokeWidth":1.3},
   "encoding":{
    "x":{"field":"x","type":"quantitative","title":"Wavelength / nm","scale":{"domain":[350,725],"nice":false,"zero":false},
         "axis":{"values":[350,375,400,425,450,475,500,525,550,575,600,625,650,675,700,725],"labelExpr":"datum.value % 50 == 0 && datum.value <= 700 ? datum.label : ''"}},
    "y":{"field":"y","type":"quantitative","title":"Intensity / (a.u.)","scale":{"domain":[0,1800],"nice":false},
         "axis":{"values":[0,200,400,600,800,1000,1200,1400,1600,1800]}},
    "color":{"field":"s","type":"nominal","scale":{"domain":["360 nm","380 nm","400 nm","420 nm","440 nm","460 nm","480 nm","500 nm","520 nm","540 nm","560 nm"],"range":["#000000","#e00000","#1f4fb5","#3d8b8b","#a845a8","#6e6e00","#1c1c6b","#5c0000","#dc1452","#4b8b37","#000050"]},
      "legend":{"title":null,"orient":"none","legendX":301,"legendY":5,"symbolType":"M-3.7,0H3.7","symbolSize":100,"symbolStrokeWidth":1.5,"labelOffset":21,"rowPadding":2.3,"labelFontSize":18}}
   }},
  {"data":{"values":[{"x":393.5,"y":610,"x2":572.3,"y2":52},{"x":601.4,"y":1749,"x2":601.4,"y2":432}]},
   "mark":{"type":"rule","color":"#111111","strokeWidth":1.2},
   "encoding":{"x":{"field":"x","type":"quantitative"},"y":{"field":"y","type":"quantitative"},"x2":{"field":"x2"},"y2":{"field":"y2"}}},
  {"data":{"values":[{"x":572.3,"y":52}]},
   "mark":{"type":"point","shape":"M-0.65,-1L0.65,-1L0,1Z","size":144,"filled":true,"color":"black","opacity":1,"angle":293.5},
   "encoding":{"x":{"field":"x","type":"quantitative"},"y":{"field":"y","type":"quantitative"}}},
  {"data":{"values":[{"x":601.4,"y":432}]},
   "mark":{"type":"point","shape":"M-0.65,-1L0.65,-1L0,1Z","size":144,"filled":true,"color":"black","opacity":1},
   "encoding":{"x":{"field":"x","type":"quantitative"},"y":{"field":"y","type":"quantitative"}}},
  {"data":{"values":[{"x":371,"y":1691,"t":"(a)"}]},
   "mark":{"type":"text","fontSize":19,"color":"black"},
   "encoding":{"x":{"field":"x","type":"quantitative"},"y":{"field":"y","type":"quantitative"},"text":{"field":"t"}}}
 ]
},
{
 "width":416,"height":282,
 "layer":[
  {"data":{"name":"b"},"mark":{"type":"line","strokeWidth":1.3},
   "encoding":{
    "x":{"field":"x","type":"quantitative","title":"Wavelength / nm","scale":{"domain":[350,718],"nice":false,"zero":false},
         "axis":{"values":[350,375,400,425,450,475,500,525,550,575,600,625,650,675,700],"labelExpr":"datum.value % 50 == 0 ? datum.label : ''"}},
    "y":{"field":"y","type":"quantitative","title":"Intensity / (a.u.)","scale":{"domain":[-16,1506],"nice":false,"zero":false},
         "axis":{"values":[0,100,200,300,400,500,600,700,800,900,1000,1100,1200,1300,1400,1500],"labelExpr":"datum.value % 200 == 0 ? datum.label : ''"}},
    "color":{"field":"s","type":"nominal","scale":{"domain":["360 nm","380 nm","400 nm","420 nm","440 nm","460 nm","480 nm","500 nm","520 nm","540 nm","560 nm"],"range":["#000000","#e00000","#1f4fb5","#3d8b8b","#a845a8","#6e6e00","#1c1c6b","#5c0000","#dc1452","#4b8b37","#000050"]},
      "legend":{"title":null,"orient":"none","legendX":309,"legendY":4,"symbolType":"M-3.7,0H3.7","symbolSize":100,"symbolStrokeWidth":1.5,"labelOffset":21,"rowPadding":2.1,"labelFontSize":18}}
   }},
  {"data":{"values":[{"x":409.6,"y":815,"x2":554.4,"y2":32},{"x":612.5,"y":1463,"x2":612.5,"y2":367}]},
   "mark":{"type":"rule","color":"#111111","strokeWidth":1.2},
   "encoding":{"x":{"field":"x","type":"quantitative"},"y":{"field":"y","type":"quantitative"},"x2":{"field":"x2"},"y2":{"field":"y2"}}},
  {"data":{"values":[{"x":550.4,"y":54}]},
   "mark":{"type":"point","shape":"M-0.6,-1L0,1L0.6,-1","size":144,"filled":false,"color":"black","strokeWidth":1.3,"opacity":1,"angle":311.6},
   "encoding":{"x":{"field":"x","type":"quantitative"},"y":{"field":"y","type":"quantitative"}}},
  {"data":{"values":[{"x":612.5,"y":367}]},
   "mark":{"type":"point","shape":"M-0.65,-1L0.65,-1L0,1Z","size":144,"filled":true,"color":"black","opacity":1},
   "encoding":{"x":{"field":"x","type":"quantitative"},"y":{"field":"y","type":"quantitative"}}},
  {"data":{"values":[{"x":372.8,"y":1415,"t":"(b)"}]},
   "mark":{"type":"text","fontSize":19,"color":"black"},
   "encoding":{"x":{"field":"x","type":"quantitative"},"y":{"field":"y","type":"quantitative"},"text":{"field":"t"}}}
 ]
}
]
}
